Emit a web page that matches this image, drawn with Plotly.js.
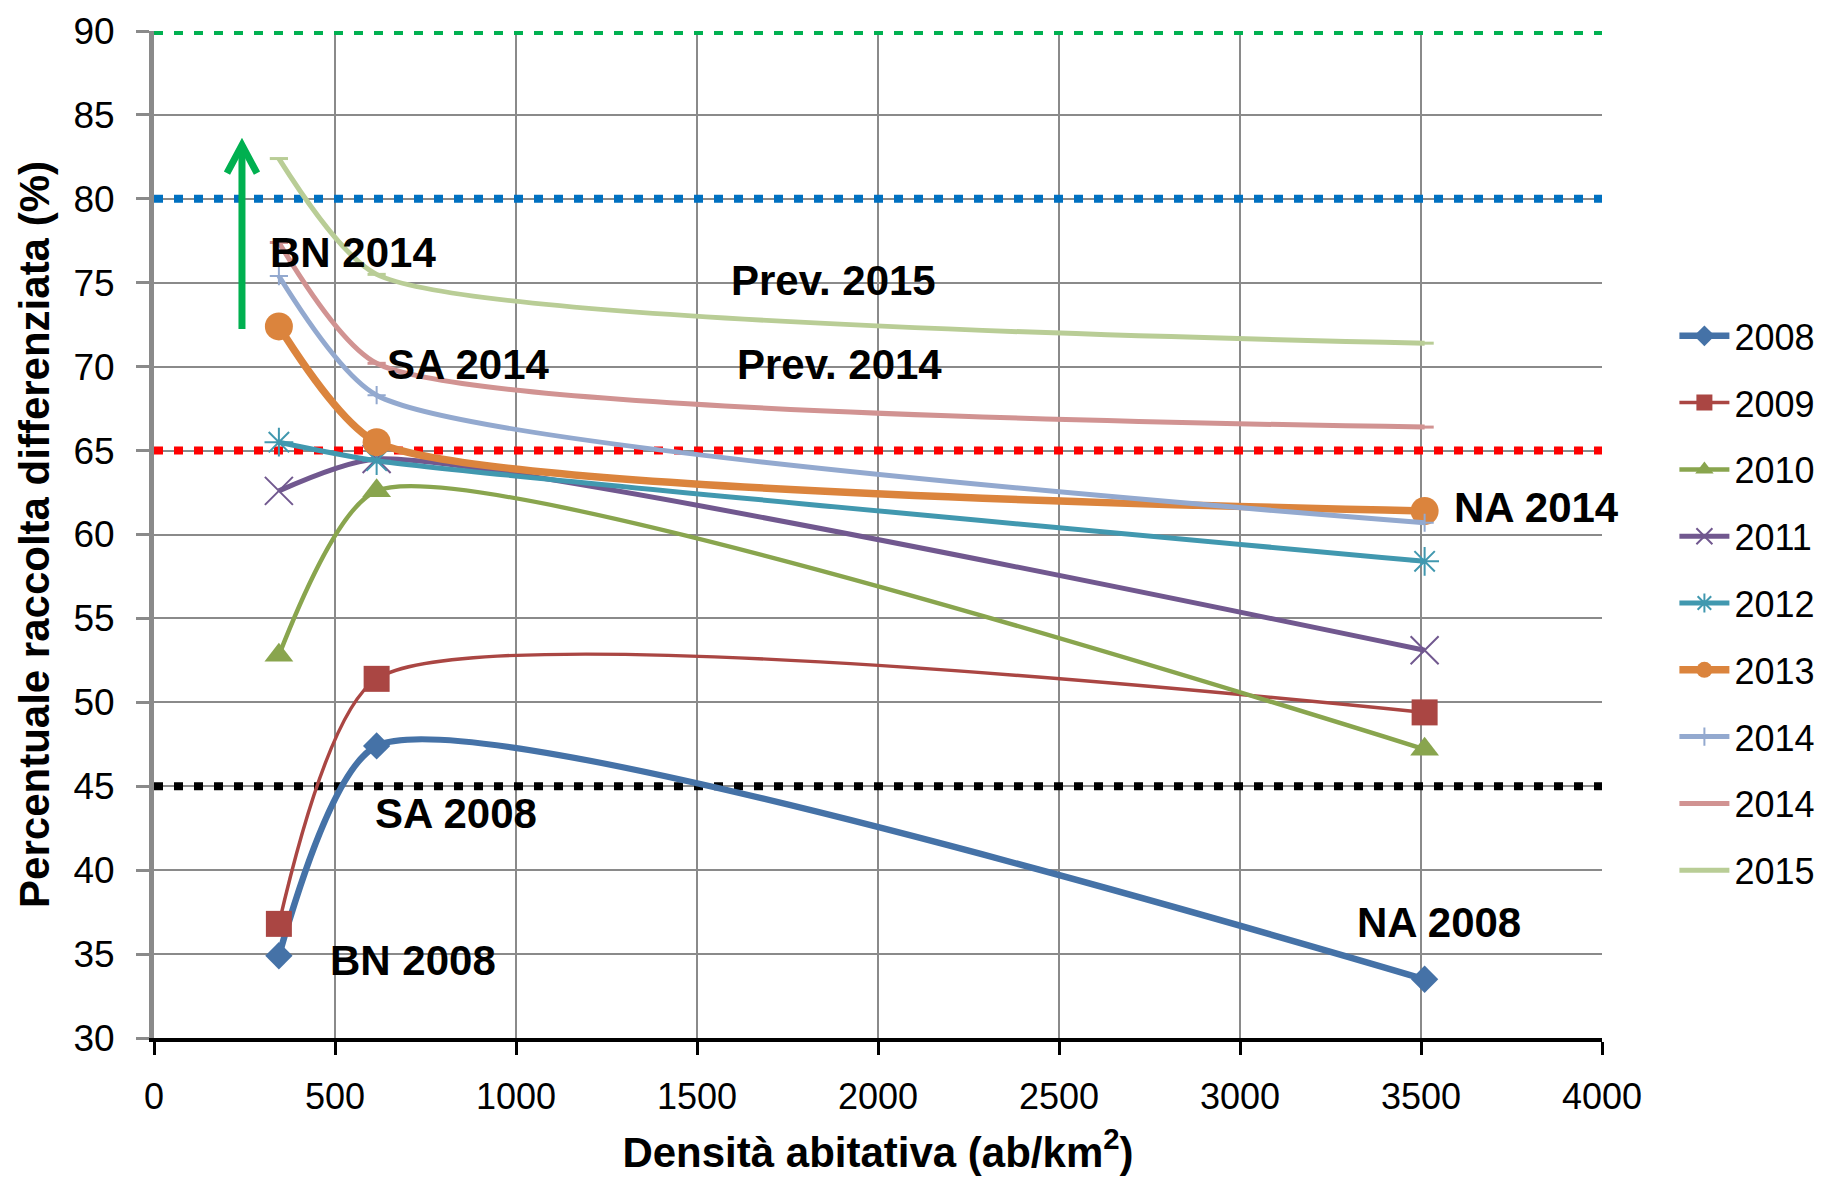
<!DOCTYPE html>
<html>
<head>
<meta charset="utf-8">
<script src="https://cdn.plot.ly/plotly-3.0.1.min.js"></script>
<style>html,body{margin:0;padding:0;background:#fff;}#chart{width:1827px;height:1184px;}</style>
</head>
<body>
<div id="chart"></div>
<script>
// ---- Data ----
const seriesNames = ['2008', '2009', '2010', '2011', '2012', '2013', '2014', '2014', '2015'];
const density = [345, 615, 3510];            // BN, SA, NA (ab/km2)
const rd2008 = [34.9, 47.4, 33.5];
const rd2009 = [36.8, 51.4, 49.4];
const rd2010 = [52.8, 62.6, 47.2];
const rd2011 = [62.6, 64.5, 53.1];
const rd2012 = [65.5, 64.4, 58.4];
const rd2013 = [72.4, 65.5, 61.4];
const rd2014 = [75.4, 68.3, 60.7];
const prev2014 = [77.4, 70.2, 66.4];
const prev2015 = [82.4, 75.5, 71.4];

const targetLevels = [90, 80, 65, 45];
const targetRange = [0, 4000];

const labelTexts = ['BN 2014', 'SA 2014', 'Prev. 2015', 'Prev. 2014', 'NA 2014', 'SA 2008', 'BN 2008', 'NA 2008'];
const labelX = [315, 637, 1589, 1605, 3585, 604, 482, 3318];
const labelY = [76.8, 70.15, 75.15, 70.15, 61.6, 43.4, 34.6, 36.9];

const arrowX = [243];
const arrowY = [72.25, 83.2];

const xTicks = [0, 500, 1000, 1500, 2000, 2500, 3000, 3500, 4000];
const yTicks = [30, 35, 40, 45, 50, 55, 60, 65, 70, 75, 80, 85, 90];

// ---- Styles ----
const FONT = '"Liberation Sans", Arial, sans-serif';
const seriesData = [rd2008, rd2009, rd2010, rd2011, rd2012, rd2013, rd2014, prev2014, prev2015];
const seriesStyle = [
  {color: '#4572A7', width: 6.5, symbol: 'diamond', size: 21},
  {color: '#AA4643', width: 3.5, symbol: 'square', size: 26},
  {color: '#89A54E', width: 4.5, symbol: 'triangle-up', size: 25},
  {color: '#71588F', width: 5, symbol: 'x-thin-open', size: 28, lw: 2},
  {color: '#4198AF', width: 5, symbol: 'asterisk-open', size: 24, lw: 2},
  {color: '#DB843D', width: 7.5, symbol: 'circle', size: 28},
  {color: '#93A9CF', width: 5, symbol: 'cross-thin-open', size: 13, lw: 2},
  {color: '#D19392', width: 5, symbol: 'line-ew-open', size: 13, lw: 3},
  {color: '#B9CD96', width: 5, symbol: 'line-ew-open', size: 13, lw: 3}
];
const targetColors = ['#00B050', '#0070C0', '#FF0000', '#000000'];

const traces = [];
targetLevels.forEach((lv, i) => {
  traces.push({
    x: targetRange, y: [lv, lv], mode: 'lines', showlegend: false, hoverinfo: 'skip',
    line: {color: targetColors[i], width: 8, dash: '9px,11px'}
  });
});
seriesData.forEach((d, i) => {
  const s = seriesStyle[i];
  traces.push({
    x: density, y: d, name: seriesNames[i], mode: 'lines+markers',
    legendgroup: 'g' + i,
    line: {color: s.color, width: s.width, shape: 'spline', smoothing: 0.6},
    marker: {symbol: s.symbol, size: s.size, color: s.color, line: {color: s.color, width: s.lw || 0}}
  });
});

const annotations = labelTexts.map((t, i) => ({
  x: labelX[i], y: labelY[i], xref: 'x', yref: 'y', text: t, showarrow: false,
  xanchor: 'left', yanchor: 'middle',
  font: {family: FONT, size: 42, color: '#000', weight: 'bold'}
}));

const shapes = [
  {type: 'line', xref: 'x', yref: 'y', x0: arrowX[0], x1: arrowX[0], y0: arrowY[0], y1: arrowY[1] - 0.2,
   line: {color: '#00B050', width: 7}},
  {type: 'path', xref: 'x', yref: 'y', xsizemode: 'pixel', ysizemode: 'pixel',
   xanchor: arrowX[0], yanchor: arrowY[1], path: 'M-15,-28 L0,0 L15,-28',
   line: {color: '#00B050', width: 7}}
];

const layout = {
  width: 1827, height: 1184,
  paper_bgcolor: '#fff', plot_bgcolor: '#fff',
  margin: {l: 154, r: 225, t: 31, b: 146, autoexpand: false},
  font: {family: FONT, size: 36, color: '#000'},
  xaxis: {
    range: [0, 4000], tickvals: xTicks, ticktext: xTicks.map(String),
    showgrid: true, gridcolor: '#8a8a8a', gridwidth: 2, zeroline: false,
    showline: true, linecolor: '#000', linewidth: 4,
    ticks: 'outside', ticklen: 13, tickwidth: 3, tickcolor: '#000',
    ticklabelstandoff: 11,
    tickfont: {family: FONT, size: 36, color: '#000'},
    title: {text: 'Densità abitativa (ab/km<sup>2</sup>)', standoff: 22,
            font: {family: FONT, size: 42, color: '#000', weight: 'bold'}},
    automargin: false
  },
  yaxis: {
    range: [30, 90], tickvals: yTicks, ticktext: yTicks.map(String),
    showgrid: true, gridcolor: '#8a8a8a', gridwidth: 2, zeroline: false,
    showline: true, linecolor: '#8a8a8a', linewidth: 5,
    ticks: 'outside', ticklen: 13, tickwidth: 3, tickcolor: '#8a8a8a',
    ticklabelstandoff: 14,
    tickfont: {family: FONT, size: 37, color: '#000'},
    title: {text: 'Percentuale raccolta differenziata (%)', standoff: 12,
            font: {family: FONT, size: 42, color: '#000', weight: 'bold'}},
    automargin: false
  },
  legend: {
    x: 1.05, xanchor: 'left', y: 0.727, yanchor: 'top',
    font: {family: FONT, size: 36, color: '#000'},
    itemwidth: 50, tracegroupgap: 17, bgcolor: 'rgba(0,0,0,0)'
  },
  annotations: annotations,
  shapes: shapes,
  showlegend: true
};

Plotly.newPlot('chart', traces, layout, {displayModeBar: false, staticPlot: true});
</script>
</body>
</html>
